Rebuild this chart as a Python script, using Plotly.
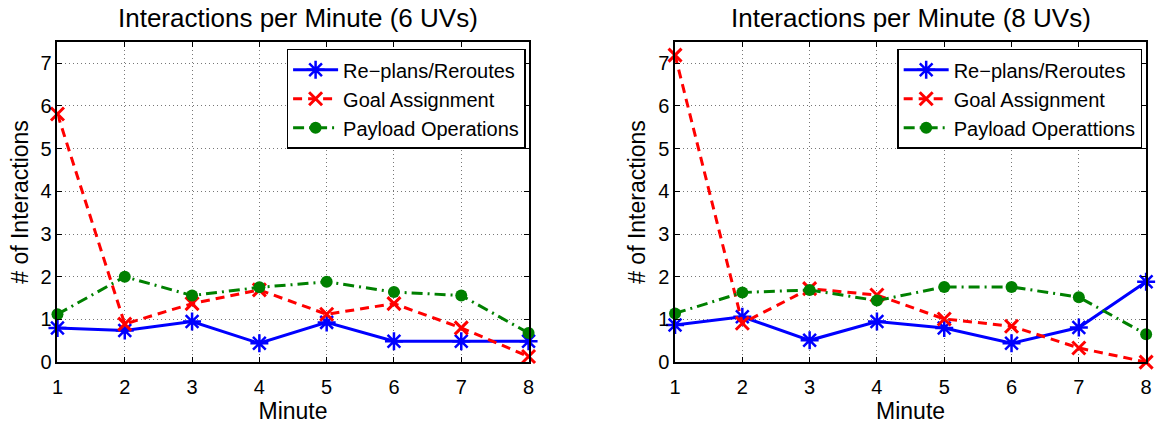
import plotly.graph_objects as go

minutes = [1, 2, 3, 4, 5, 6, 7, 8]

replans_6 = [0.80, 0.74, 0.95, 0.44, 0.93, 0.49, 0.49, 0.49]
goal_6 = [5.81, 0.89, 1.37, 1.69, 1.12, 1.37, 0.80, 0.13]
payload_6 = [1.12, 2.00, 1.56, 1.75, 1.88, 1.64, 1.56, 0.68]

replans_8 = [0.87, 1.06, 0.51, 0.95, 0.80, 0.44, 0.81, 1.88]
goal_8 = [7.19, 0.91, 1.72, 1.57, 1.01, 0.84, 0.33, 0.00]
payload_8 = [1.14, 1.63, 1.69, 1.44, 1.76, 1.76, 1.52, 0.65]

titles = ["Interactions per Minute (6 UVs)", "Interactions per Minute (8 UVs)"]
names_6 = ["Re\u2212plans/Reroutes", "Goal Assignment", "Payload Operations"]
names_8 = ["Re\u2212plans/Reroutes", "Goal Assignment", "Payload Operattions"]

FONT = "Liberation Sans, Arial, sans-serif"
W, H = 1165, 425

fig = go.Figure()

def add_series(xa, ya, leg, names, rep, goal, pay):
    fig.add_trace(go.Scatter(
        x=minutes, y=rep, name=names[0], xaxis=xa, yaxis=ya, legend=leg,
        mode="lines+markers", cliponaxis=False,
        line=dict(color="#0000FF", width=3),
        marker=dict(symbol="asterisk-open", size=15, color="#0000FF",
                    line=dict(color="#0000FF", width=2.5))))
    fig.add_trace(go.Scatter(
        x=minutes, y=goal, name=names[1], xaxis=xa, yaxis=ya, legend=leg,
        mode="lines+markers", cliponaxis=False,
        line=dict(color="#FF0000", width=3, dash="9px,6px"),
        marker=dict(symbol="x-thin-open", size=13, color="#FF0000",
                    line=dict(color="#FF0000", width=3))))
    fig.add_trace(go.Scatter(
        x=minutes, y=pay, name=names[2], xaxis=xa, yaxis=ya, legend=leg,
        mode="lines+markers", cliponaxis=False,
        line=dict(color="#008000", width=3, dash="11px,5px,2px,5px"),
        marker=dict(symbol="circle", size=12, color="#008000")))

add_series("x", "y", "legend", names_6, replans_6, goal_6, payload_6)
add_series("x2", "y2", "legend2", names_8, replans_8, goal_8, payload_8)

ydom = [(H - 371.7) / H, (H - 43) / H]
axis_common = dict(
    showline=True, linecolor="black", linewidth=1.5, mirror="ticks",
    ticks="inside", ticklen=5, tickcolor="black",
    showgrid=True, gridcolor="#777777", griddash="1px,3px", gridwidth=1,
    zeroline=False, tickfont=dict(family=FONT, size=20, color="black"),
    title_font=dict(family=FONT, size=23, color="black"),
)

legend_common = dict(
    xanchor="right", y=(H - 50) / H, yanchor="top",
    bgcolor="white", bordercolor="black", borderwidth=1.5,
    font=dict(family=FONT, size=20, color="black"),
    tracegroupgap=0, itemwidth=45,
)

fig.update_layout(
    width=W, height=H,
    margin=dict(l=0, r=0, t=0, b=0),
    paper_bgcolor="white", plot_bgcolor="white",
    font=dict(family=FONT, color="black"),
    xaxis=dict(domain=[52 / W, 528 / W], range=[1, 8], tickvals=minutes,
               anchor="y", ticklabelstandoff=6,
               title=dict(text="Minute", standoff=0), **axis_common),
    yaxis=dict(domain=ydom, range=[0, 7.5], tickvals=list(range(8)),
               anchor="x", title=dict(text="# of Interactions", standoff=6), **axis_common),
    xaxis2=dict(domain=[676 / W, 1152 / W], range=[1, 8], tickvals=minutes,
                anchor="y2", ticklabelstandoff=6,
                title=dict(text="Minute", standoff=0), **axis_common),
    yaxis2=dict(domain=ydom, range=[0, 7.5], tickvals=list(range(8)),
                anchor="x2", title=dict(text="# of Interactions", standoff=6), **axis_common),
    legend=dict(x=525 / W, **legend_common),
    legend2=dict(x=1148 / W, **legend_common),
    annotations=[
        dict(text=titles[0], x=295 / W, y=(H - 18) / H,
             xref="paper", yref="paper", showarrow=False,
             xanchor="center", yanchor="middle",
             font=dict(family=FONT, size=26, color="black")),
        dict(text=titles[1], x=914 / W, y=(H - 18) / H,
             xref="paper", yref="paper", showarrow=False,
             xanchor="center", yanchor="middle",
             font=dict(family=FONT, size=26, color="black")),
    ],
)

fig.write_html("out.html")
